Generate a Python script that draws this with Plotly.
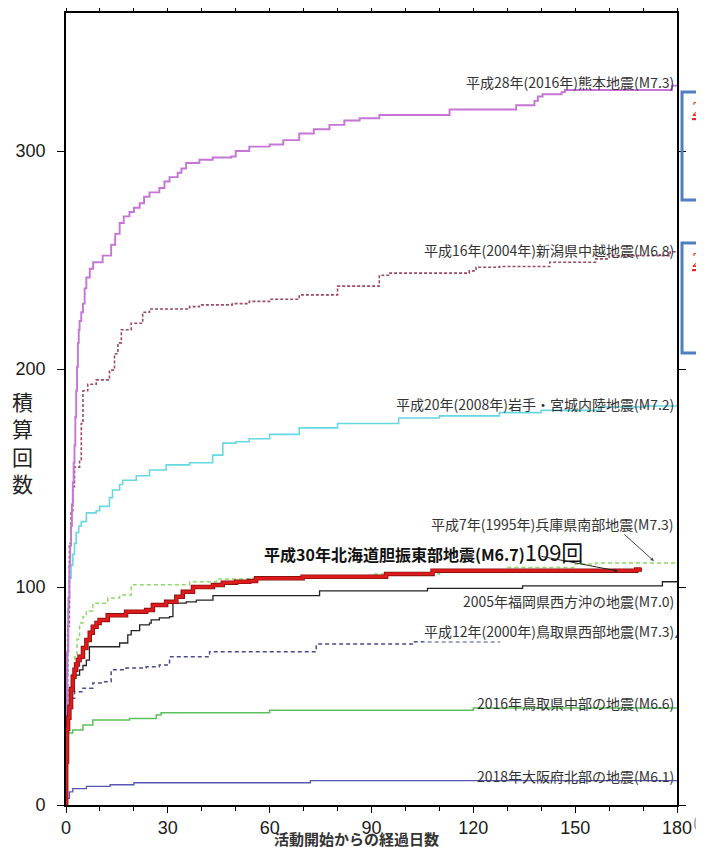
import plotly.graph_objects as go

# ---------------- data ----------------
kumamoto_days = [0, 0.05, 0.3, 0.7, 1, 1.25, 1.5, 1.75, 2, 2.25, 2.5, 2.75, 3, 3.25, 3.5, 3.75, 4, 4.5, 5, 5.5,
                 6, 7, 8, 10.8, 13.3, 14.5, 15.8, 17, 18.7, 20, 21.7, 23, 24.6, 27.5, 29, 30.5, 32.9, 34, 35.4,
                 39.3, 43.2, 48.7, 50, 54, 60, 64, 68.7, 73, 77.6, 82, 86.5, 92.3, 113, 132.6, 138, 139,
                 140.4, 146, 147, 178.5, 180]
kumamoto_counts = [0, 40, 70, 95, 110, 119, 128, 138, 148, 157, 165, 178, 190, 201, 212, 218, 222, 226, 230, 237,
                   242, 246, 249, 252, 257, 262, 267, 270, 272, 274, 276, 279, 281, 283, 286, 288, 290, 292, 294.5,
                   296, 297, 297.5, 300, 302, 303, 305, 308, 310, 312, 314, 315, 316.5, 319, 321, 323, 325,
                   326, 327, 328, 330, 330]

niigata_days = [0, 0.1, 0.5, 1, 1.5, 2, 2.5, 4, 4.5, 5, 6.4, 8.9, 12.8, 14.3, 15.3, 16.3, 19.2, 22.6, 24.6,
                36.4, 39.3, 49, 54, 60, 68.7, 80, 92.3, 95, 118.8, 120.8, 127.7, 142.5, 156, 160, 178, 180]
niigata_counts = [0, 40, 82, 120, 135, 146, 155, 158, 175, 190, 193, 195, 199.5, 207, 212, 218, 221, 226, 227.5,
                  228.6, 229.4, 230, 231, 232, 234, 238, 243, 244, 245, 246.7, 247, 249, 250.5, 252, 253.8, 254]

iwate_days = [0, 0.1, 0.5, 1, 1.5, 2, 2.5, 3, 3.75, 4.5, 6, 8.9, 9.9, 12.8, 13.7, 15.8, 16.7, 20.7, 24.6, 29.5,
              36.4, 43.2, 46.2, 50, 54, 60, 68.7, 80, 98, 110, 127.7, 140, 157, 170, 180]
iwate_counts = [0, 60, 90, 104, 110, 115, 120, 125, 128, 130, 134, 135, 137, 141, 144.5, 147, 149, 151, 153.7, 156,
                157, 160.5, 166, 166.6, 168, 170, 173, 175, 177.5, 178.5, 180, 181, 182.6, 183, 183.5]

hyogo_days = [0, 0.3, 1, 1.75, 2.5, 3.25, 4, 5, 6, 7.9, 12.3, 15.8, 19.2, 36.4, 44.3, 54, 70, 90, 110, 130,
              150, 156, 180]
hyogo_counts = [0, 35, 52, 60, 68, 76, 83.5, 86.5, 89, 92.6, 95, 96.3, 101, 102.4, 103.7, 104, 105, 106, 107.5,
                109, 110.5, 111, 111.5]

hokkaido_days = [0, 0.05, 0.3, 0.6, 1, 1.5, 2, 2.5, 3, 3.5, 4, 5, 6, 7, 7.9, 9, 9.9, 12.3, 17.7, 23.6, 25.6,
                 29.5, 32.5, 34.4, 37.4, 43.3, 46.2, 50.1, 54, 56, 69.7, 94.3, 108, 168, 169]
hokkaido_counts = [0, 20, 35, 40, 45, 53, 58.8, 62, 64.5, 66.5, 68, 72, 75.7, 79, 81.8, 83.5, 84.9, 87, 88.7,
                   89.4, 91.7, 93.2, 95.5, 97.8, 100, 100.9, 102, 102.4, 102.7, 104, 104.7, 106, 107.5, 108, 109]

fukuoka_days = [0, 0.1, 0.5, 1, 1.75, 2.5, 4, 5, 6, 6.9, 15.8, 18.2, 19.2, 21.7, 24.6, 25.1, 27.5, 30.5, 31.5,
                35.4, 38.4, 43.3, 74.7, 106.5, 134.5, 175.7, 180]
fukuoka_counts = [0, 25, 42, 54, 57, 59.6, 62, 64, 66.5, 72.6, 74.3, 78, 80, 82.6, 83.4, 84.9, 85.8, 86.4, 92.6,
                  93.2, 94, 96, 98.2, 99.4, 100.5, 102.4, 102.5]

tottori_w_days = [0, 0.1, 0.5, 1.5, 2.5, 5, 7.9, 10.8, 13.3, 17.7, 23.6, 27.5, 30.5, 42.3, 73.7, 102, 127.7,
                  140, 180]
tottori_w_counts = [0, 30, 45, 49, 52, 53.6, 56, 56.5, 62, 62.8, 63.4, 64.2, 68, 70.3, 73.8, 74.9, 75.7, 77, 78]

tottori_c_days = [0, 0.05, 0.5, 2, 5, 7.9, 18.7, 26.6, 28, 60, 120, 180]
tottori_c_counts = [0, 30, 33, 34.4, 36.7, 39, 39.7, 41.3, 42.3, 43.5, 44.5, 44.5]

osaka_days = [0, 0.3, 1, 2, 6, 13, 20, 72, 180]
osaka_counts = [0, 3, 6, 7.5, 8.5, 9.3, 10.2, 11.2, 11.2]

x_ticks = [0, 30, 60, 90, 120, 150, 180]
y_ticks = [0, 100, 200, 300]

JP = "Noto Sans CJK JP"
LAT = "Liberation Sans, Arial"

fig = go.Figure()

def add(days, counts, color, width, dash="solid"):
    fig.add_trace(go.Scatter(x=days, y=counts, mode="lines", line_shape="hv",
                             line=dict(color=color, width=width, dash=dash),
                             hoverinfo="skip", showlegend=False))

add(osaka_days, osaka_counts, "#5656b8", 1.3)
add(tottori_c_days, tottori_c_counts, "#5cc05c", 1.5)
add(tottori_w_days, tottori_w_counts, "#4a4a8c", 1.5, "4px,3px")
add(fukuoka_days, fukuoka_counts, "#222222", 1.3)
add(hyogo_days, hyogo_counts, "#8fd86a", 1.5, "4px,3px")
add(iwate_days, iwate_counts, "#66d8e2", 1.6)
add(niigata_days, niigata_counts, "#9a4a62", 1.6, "3px,2px")
add(kumamoto_days, kumamoto_counts, "#c674d6", 1.9)
add(hokkaido_days, hokkaido_counts, "#8a1010", 4.5)
add(hokkaido_days, hokkaido_counts, "#e01a1a", 2.8)

axis_common = dict(showline=True, linecolor="black", linewidth=1.6, mirror="allticks", automargin=False,
                   ticks="outside", tickcolor="black", tickwidth=1.4, showgrid=False, zeroline=False,
                   tickfont=dict(family=LAT, size=18, color="#1a1a1a"))

fig.update_xaxes(range=[0, 180], tickvals=x_ticks, ticklen=6,
                 minor=dict(dtick=10, ticks="outside", ticklen=4, tickcolor="black", tickwidth=1, showgrid=False),
                 **axis_common)
fig.update_yaxes(range=[0, 363.3], tickvals=y_ticks, ticklen=7, ticklabelstandoff=8, **axis_common)

labels = [
    ("平成28年(2016年)熊本地震(M7.3)", 331.7),
    ("平成16年(2004年)新潟県中越地震(M6.8)", 254.5),
    ("平成20年(2008年)岩手・宮城内陸地震(M7.2)", 184.0),
    ("平成7年(1995年)兵庫県南部地震(M7.3)", 129.0),
    ("2005年福岡県西方沖の地震(M7.0)", 93.6),
    ("平成12年(2000年)鳥取県西部地震(M7.3)", 79.8),
    ("2016年鳥取県中部の地震(M6.6)", 46.8),
    ("2018年大阪府北部の地震(M6.1)", 13.3),
]
annotations = []
for txt, yv in labels:
    annotations.append(dict(x=179.3, y=yv, xref="x", yref="y", text=txt, showarrow=False,
                            xanchor="right", yanchor="middle", borderpad=0,
                            bgcolor="white" if "鳥取県西部" in txt else "rgba(0,0,0,0)",
                            font=dict(family=JP, size=14, color="#333333")))

annotations.append(dict(x=57.8, y=116.5, xref="x", yref="y", xanchor="left", yanchor="middle",
                        showarrow=False,
                        text="<b>平成30年北海道胆振東部地震(M6.7)</b><span style='font-size:22px'>109回</span>",
                        font=dict(family=JP, size=16, color="#111111")))
# arrows
annotations.append(dict(x=162.6, y=107.3, xref="x", yref="y", ax=-78, ay=-15, text="",
                        showarrow=True, arrowhead=2, arrowsize=0.7, arrowwidth=1, arrowcolor="#222"))
annotations.append(dict(x=173.2, y=111.9, xref="x", yref="y", ax=-31, ay=-28, text="",
                        showarrow=True, arrowhead=2, arrowsize=0.7, arrowwidth=1, arrowcolor="#444"))

# axis titles
annotations.append(dict(x=-0.072, y=0.458, xref="paper", yref="paper", showarrow=False,
                        text="積<br>算<br>回<br>数", xanchor="center", yanchor="middle",
                        font=dict(family=JP, size=21, color="#222")))
annotations.append(dict(x=0.476, y=-0.0425, xref="paper", yref="paper", showarrow=False,
                        text="<b>活動開始からの経過日数</b>", xanchor="center", yanchor="middle",
                        font=dict(family=JP, size=15, color="#333")))
annotations.append(dict(x=1.027, y=-0.0215, xref="paper", yref="paper", showarrow=False,
                        text="(日)", xanchor="left", yanchor="middle", borderpad=0, borderwidth=0,
                        font=dict(family=LAT, size=16, color="#999")))
# partial overlay boxes at right edge
for yy in (0.880, 0.689):
    annotations.append(dict(x=1.025, y=yy, xref="paper", yref="paper", showarrow=False,
                            text="<u>2</u>", xanchor="left", yanchor="middle", borderpad=0, borderwidth=0,
                            font=dict(family="Liberation Serif", size=22, color="#ee2222")))

shapes = [
    dict(type="rect", xref="paper", yref="paper", x0=1.0082, x1=1.08, y0=0.7639, y1=0.9003,
         line=dict(color="#4f7fc0", width=3), fillcolor="rgba(0,0,0,0)", layer="above"),
    dict(type="rect", xref="paper", yref="paper", x0=1.0082, x1=1.08, y0=0.5707, y1=0.7096,
         line=dict(color="#4f7fc0", width=3), fillcolor="rgba(0,0,0,0)", layer="above"),
]

# the page body adds an 8px offset, so the figure is 8px smaller on each axis
fig.update_layout(width=696, height=839, margin=dict(l=58, r=27, t=5, b=42, autoexpand=False),
                  plot_bgcolor="white", paper_bgcolor="white",
                  annotations=annotations, shapes=shapes, showlegend=False)

fig.write_html("out.html")
